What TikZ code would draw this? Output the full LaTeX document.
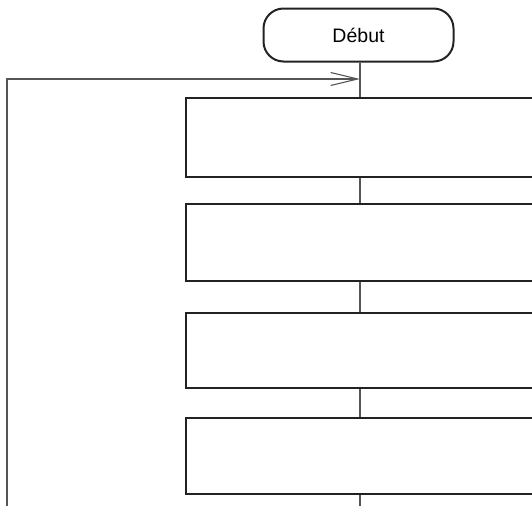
\documentclass[tikz,border=0pt]{standalone}
\usepackage{fontspec}
\setmainfont{Liberation Sans}
\usetikzlibrary{arrows.meta}
\definecolor{boxline}{HTML}{222222}
\definecolor{conn}{HTML}{555555}
\begin{document}
\begin{tikzpicture}[x=1pt,y=-1pt,
  stepbox/.style={draw=boxline,line width=2.5pt,rectangle,minimum width=360pt,inner sep=0pt},
  startbox/.style={draw=boxline,line width=2pt,rectangle,rounded corners=20pt,minimum width=190pt,minimum height=53pt,inner sep=0pt,font=\fontsize{19.5}{22}\selectfont},
  conn/.style={draw=conn,line width=1.1pt},
  loopline/.style={draw=conn,line width=1.1pt,-{Straight Barb[length=27pt,width=13pt,line width=1.1pt]}}]
\useasboundingbox (0,0) rectangle (532,506);
\clip (0,0) rectangle (532,506);
\node[startbox] (start) at (358.5,35) {Début};
\node[stepbox,minimum height=79pt] (b1) at (366,137.5) {};
\node[stepbox,minimum height=77pt] (b2) at (366,242.5) {};
\node[stepbox,minimum height=75pt] (b3) at (366,350.5) {};
\node[stepbox,minimum height=76pt] (b4) at (366,456) {};
\coordinate (bot) at (360,506);
\coordinate (loopbot) at (7,506);
\coordinate (looptop) at (7,79);
\coordinate (join) at (360,79);
\draw[conn] (start.south -| join) -- (b1.north -| join);
\draw[conn] (b1.south -| join) -- (b2.north -| join);
\draw[conn] (b2.south -| join) -- (b3.north -| join);
\draw[conn] (b3.south -| join) -- (b4.north -| join);
\draw[conn] (b4.south -| join) -- (bot);
\draw[loopline] (loopbot) -- (looptop) -- (join);
\end{tikzpicture}
\end{document}
